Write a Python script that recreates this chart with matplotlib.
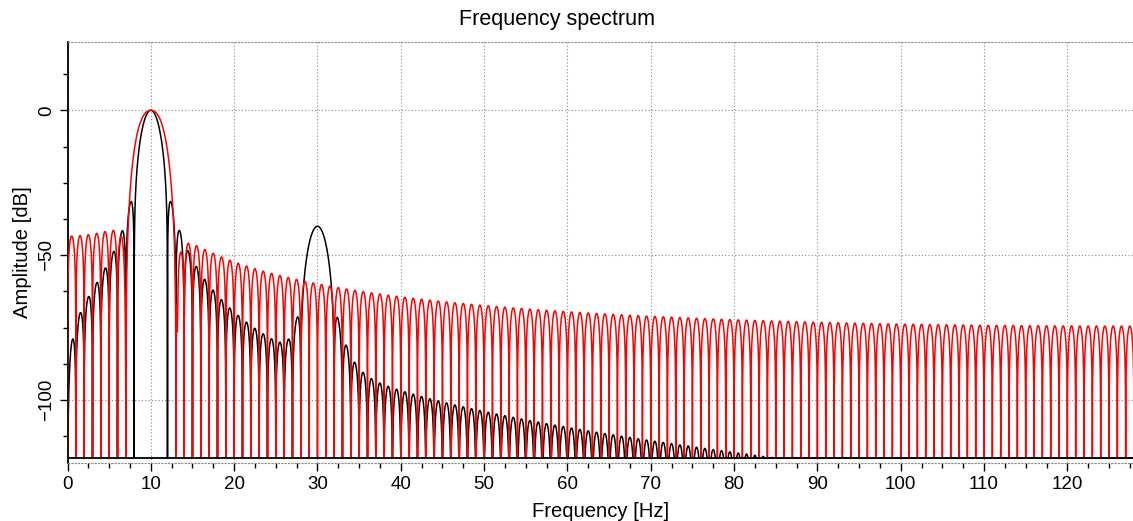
import numpy as np
import matplotlib
matplotlib.use('Agg')
import matplotlib.pyplot as plt
from matplotlib.ticker import MultipleLocator

# ---------------- data ----------------
fs = 256.0            # sample rate [Hz]
n_samples = 256       # record length
# black trace: Hann window, two tones
black_tone_hz = [10.0, 30.0]
black_tone_db = [0.0, -40.0]
hann_coef = [0.5, 0.5]
black_peak_hz = [0.5, 3.5, 4.5, 5.5, 6.5, 22.5, 23.5, 24.5, 25.5, 26.5, 27.5,
                 32.5, 33.5, 34.5, 35.5]
black_peak_db = [-79, -59.4, -54.4, -48.9, -41.9, -75, -76.8, -78.6, -80.4, -79.2, -71.2,
                 -71.2, -81, -87.2, -90.5]
# red trace: single 10 Hz tone, 3-term cosine window fitted to levels
red_tone_hz = 10.0
red_peak_hz = [0.5, 1.5, 2.5, 3.5, 4.5, 5.5, 14.5, 15.5, 17.5, 19.5, 21.5,
               30.5, 40.5, 50.5, 60.5, 80.5, 100.5, 120.5, 127.5]
red_peak_db = [-42, -42, -42, -42, -42, -42, -47.9, -47.8, -50.3, -51.1, -52.2,
               -58.5, -63, -64.7, -67, -71.6, -74.4, -76, -76.5]
red_lobe_hz = [9.3, 8.68, 8.28, 7.68, 12.28]
red_lobe_db = [-0.5, -4.4, -7.8, -21.6, -21.6]
floor_db = -120.0

x_ticks = list(range(0, 121, 10))
y_ticks = [0, -50, -100]

# ---------------- spectrum helpers ----------------
n = np.arange(n_samples)
NFIT = 4096
ffit = np.fft.rfftfreq(NFIT, 1 / fs)


def cos_terms(k):
    return (-1) ** k * np.cos(2 * np.pi * k * n / n_samples)


def lobe_groups(freq_list):
    return [np.where(np.abs(ffit - f) <= 0.45)[0] for f in freq_list]


def score(Xd, groups, targets):
    err = 0.0
    pos = 0
    for g, t in zip(groups, targets):
        err = err + (Xd[..., pos:pos + len(g)].max(axis=-1) - t) ** 2
        pos += len(g)
    return err


def fit_red():
    C = [np.fft.rfft(cos_terms(k) * np.cos(2 * np.pi * red_tone_hz * n / fs), NFIT) for k in range(3)]
    S = [np.fft.rfft(cos_terms(k) * np.sin(2 * np.pi * red_tone_hz * n / fs), NFIT) for k in range(3)]
    groups = lobe_groups(red_peak_hz)
    all_idx = np.concatenate(groups)
    lobe_idx = np.array([np.argmin(np.abs(ffit - f)) for f in red_lobe_hz])
    norm_idx = np.where((ffit >= 8.5) & (ffit <= 11.5))[0]
    use = np.concatenate([all_idx, lobe_idx, norm_idx])
    na, nl = len(all_idx), len(lobe_idx)
    c1g = np.linspace(1.2, 1.8, 61)
    c2g = np.linspace(0.1, 0.7, 61)
    C1, C2 = np.meshgrid(c1g, c2g, indexing='ij')
    best = (np.inf, None)
    for phi in np.linspace(0, np.pi, 32, endpoint=False):
        base = [np.cos(phi) * C[k][use] - np.sin(phi) * S[k][use] for k in range(3)]
        X = np.abs(base[0] + C1[..., None] * base[1] + C2[..., None] * base[2])
        norm = X[..., na + nl:].max(axis=-1)
        Xd = 20 * np.log10(X / norm[..., None] + 1e-15)
        err = score(Xd[..., :na], groups, red_peak_db)
        err = err + 2 * ((Xd[..., na:na + nl] - np.array(red_lobe_db)) ** 2).sum(axis=-1)
        i = np.unravel_index(np.argmin(err), err.shape)
        if err[i] < best[0]:
            best = (err[i], (1.0, C1[i], C2[i], phi))
    return best


def fit_black_phases():
    w = sum(c * cos_terms(k) for k, c in enumerate(hann_coef))
    groups = lobe_groups(black_peak_hz)
    use = np.concatenate(groups)
    parts = []
    for f, a in zip(black_tone_hz, black_tone_db):
        amp = 10 ** (a / 20)
        parts.append((np.fft.rfft(amp * w * np.cos(2 * np.pi * f * n / fs), NFIT),
                      np.fft.rfft(amp * w * np.sin(2 * np.pi * f * n / fs), NFIT)))
    ref = np.abs(parts[0][0]).max()
    pg = np.linspace(0, 2 * np.pi, 36, endpoint=False)
    P1, P2 = np.meshgrid(np.linspace(0, np.pi, 18, endpoint=False), pg, indexing='ij')
    X = (np.cos(P1)[..., None] * parts[0][0][use] - np.sin(P1)[..., None] * parts[0][1][use]
         + np.cos(P2)[..., None] * parts[1][0][use] - np.sin(P2)[..., None] * parts[1][1][use])
    Xd = 20 * np.log10(np.abs(X) / ref + 1e-15)
    err = score(Xd, groups, black_peak_db)
    i = np.unravel_index(np.argmin(err), err.shape)
    return [P1[i], P2[i]]


def spectrum(coef, tones_hz, tones_db, phases, nfft=32768):
    w = sum(c * cos_terms(k) for k, c in enumerate(coef))
    x = sum(10 ** (a / 20) * np.cos(2 * np.pi * f * n / fs + p)
            for f, a, p in zip(tones_hz, tones_db, phases))
    X = np.abs(np.fft.rfft(x * w, nfft))
    X /= X.max()
    f = np.fft.rfftfreq(nfft, 1 / fs)
    return f, np.maximum(20 * np.log10(np.maximum(X, 1e-12)), floor_db)


err, (r0, r1, r2, rphi) = fit_red()
f_r, d_r = spectrum([r0, r1, r2], [red_tone_hz], [0.0], [rphi])
bph = fit_black_phases()
f_b, d_b = spectrum(hann_coef, black_tone_hz, black_tone_db, bph)

# ---------------- figure ----------------
plt.rcParams['font.family'] = ['Liberation Sans', 'DejaVu Sans']
W, H = 1133, 521
fig = plt.figure(figsize=(W / 100, H / 100), dpi=100)
left, right, top, bottom = 67.5, 1134.0, 41.7, 462.5
ax = fig.add_axes([left / W, 1 - bottom / H, (right - left) / W, (bottom - top) / H])

ax.plot(f_b, d_b, color='black', lw=1.1, zorder=3)
ax.plot(f_r, d_r, color='#ff0000', lw=1.1, zorder=4)
ax.axhline(floor_db, color='black', lw=1.3, zorder=5)

ax.set_xlim(0, 128)
ax.set_ylim(-121.5, 23.65)
ax.set_xticks(x_ticks)
ax.set_yticks(y_ticks)
ax.xaxis.set_minor_locator(MultipleLocator(2.5))
ax.yaxis.set_minor_locator(MultipleLocator(12.5))
ax.tick_params(which='major', length=6, width=1, direction='out', labelsize=13.5, colors='black')
ax.tick_params(which='minor', length=3.5, width=1, direction='out')
ax.tick_params(axis='x', pad=4)
ax.tick_params(axis='y', pad=3)
for lab in ax.get_yticklabels():
    lab.set_rotation(90)
    lab.set_va('center')

grid_kw = dict(color='#888888', lw=0.8, ls=(0, (1, 2)))
ax.grid(True, which='major', **grid_kw)
for s in ['top', 'right', 'bottom']:
    ax.spines[s].set_color('#888888')
    ax.spines[s].set_linestyle((0, (1, 2)))
    ax.spines[s].set_linewidth(0.8)
ax.spines['left'].set_color('black')
ax.spines['left'].set_linewidth(1.3)

fig.text(557 / W, 1 - 19 / H, 'Frequency spectrum', fontsize=15.5, ha='center', va='center')
ax.set_xlabel('Frequency [Hz]', fontsize=14.6, labelpad=6)
ax.set_ylabel('Amplitude [dB]', fontsize=14.6, labelpad=4)

fig.savefig('out.png', dpi=100)
